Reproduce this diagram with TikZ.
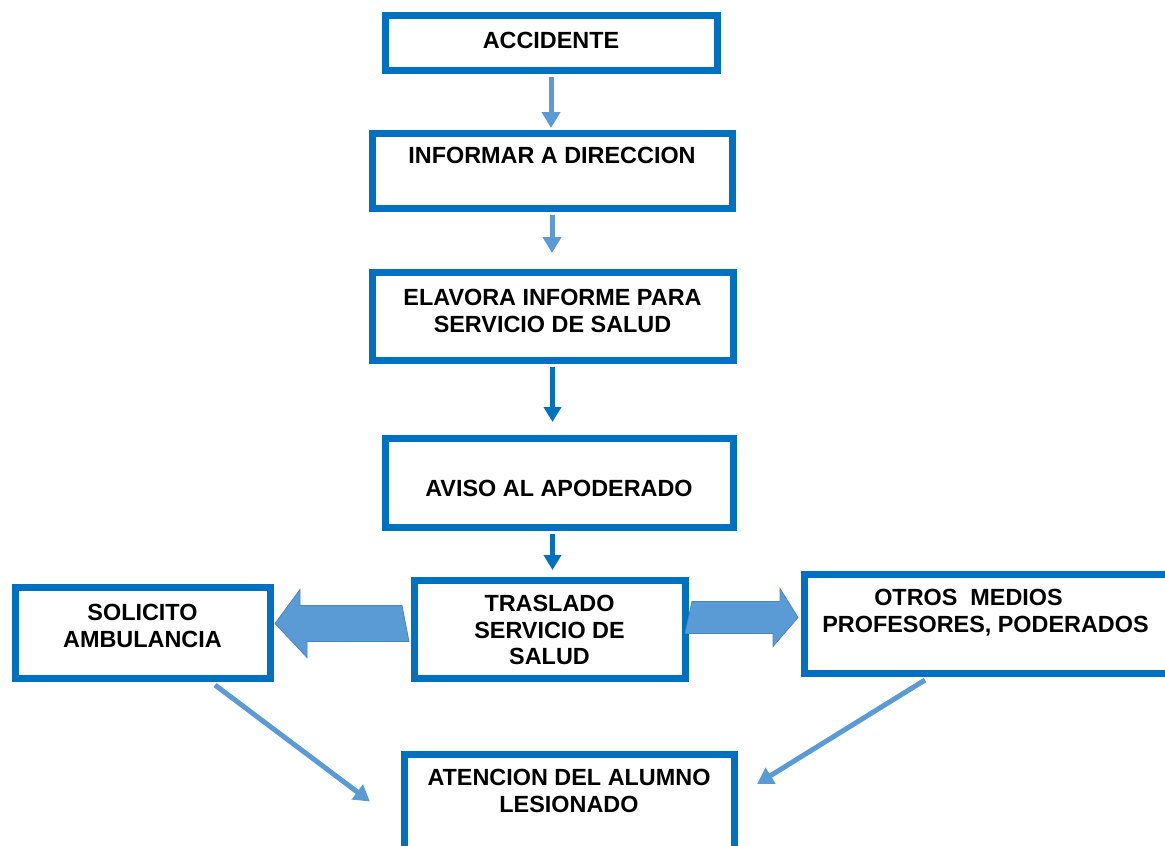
\documentclass[tikz,border=0pt]{standalone}
\usepackage{fontspec}
\setmainfont{Liberation Sans}
\usetikzlibrary{arrows.meta}
\usetikzlibrary{positioning}
\usetikzlibrary{calc}

\definecolor{boxblue}{HTML}{0070C0}
\definecolor{lightblue}{HTML}{5B9BD5}
\definecolor{edgeblue}{HTML}{4A86BE}

\newcommand{\boxtext}[1]{\begin{tabular}[t]{@{}c@{}}#1\end{tabular}}

\begin{document}
\begin{tikzpicture}[x=1pt,y=-1pt,
  box/.style={draw=boxblue, line width=7pt, inner sep=0pt, anchor=north west,
    font=\bfseries\fontsize{23.4}{26.5}\selectfont},
  lightline/.style={draw=lightblue, line width=5pt, -{Triangle[width=18pt,length=16pt]}},
  darkline/.style={draw=boxblue, line width=5pt, -{Triangle[width=17pt,length=15pt]}},
  fatarrow/.style={fill=lightblue, draw=edgeblue, line width=0.8pt, line join=miter}]

\useasboundingbox (0,0) rectangle (1165,846);

\node[box, minimum width=332pt, text height=33.5pt, text depth=21.5pt] (acc) at (381.5,11.5) {ACCIDENTE};
\node[box, minimum width=360pt, text height=30.5pt, text depth=44.5pt] (inf) at (368.5,129.5) {INFORMAR A DIRECCION};
\node[box, minimum width=361pt, text height=33.5pt, text depth=54.5pt] (ela) at (368.5,268.5) {\boxtext{ELAVORA INFORME PARA\\SERVICIO DE SALUD}};
\node[box, minimum width=348pt, text height=58.5pt, text depth=30.5pt] (avi) at (381.5,434.5) {AVISO AL APODERADO};
\node[box, minimum width=255pt, text height=33.5pt, text depth=57.5pt] (sol) at (11.5,583.5) {\boxtext{SOLICITO\\AMBULANCIA}};
\node[box, minimum width=271pt, text height=31.5pt, text depth=66.5pt] (tra) at (410.5,576.5) {\boxtext{TRASLADO\\SERVICIO DE\\SALUD}};
\node[box, minimum width=374.5pt, text height=31.5pt, text depth=67.5pt] (otr) at (800.5,570.5) {\boxtext{OTROS\ \ MEDIOS\hspace*{45.5pt}\\PROFESORES, PODERADOS\hspace*{11.5pt}}};
\node[box, minimum width=330pt, text height=31.5pt, text depth=120pt] (ate) at (400.5,750.5) {\boxtext{ATENCION DEL ALUMNO\\LESIONADO}};

\draw[lightline, shorten <=3.5pt, shorten >=1.5pt] (acc.south) -- (acc.south |- inf.north);
\draw[lightline, shorten <=3.5pt, shorten >=15.5pt] (inf.south) -- (inf.south |- ela.north);
\draw[darkline, shorten <=3.5pt, shorten >=12.5pt] (ela.south) -- (ela.south |- avi.north);
\draw[darkline, shorten <=3.5pt, shorten >=6.5pt] (ela.south |- avi.south) -- (ela.south |- tra.north);

\draw[fatarrow] ($(tra.west)+(-8.5,-23.5)$) -- ++(-102,0) -- ++(0,-16) -- ($(sol.east)+(1.5,-9)$)
  -- ++(32,34) -- ++(0,-16) -- ++(102,0) -- cycle;
\draw[fatarrow] ($(tra.east)+(3.5,-27.5)$) -- ++(88,0) -- ++(0,-13) -- ($(otr.west)+(-2.5,-6)$)
  -- ++(-25,29) -- ++(0,-13) -- ++(-88,0) -- cycle;

\draw[lightline] ($(sol.south east)+(-58.5,3.5)$) -- ($(ate.north west)+(-30.5,51)$);
\draw[lightline] ($(otr.south west)+(124.5,3.5)$) -- ($(ate.north east)+(19.5,33.5)$);
\end{tikzpicture}
\end{document}
